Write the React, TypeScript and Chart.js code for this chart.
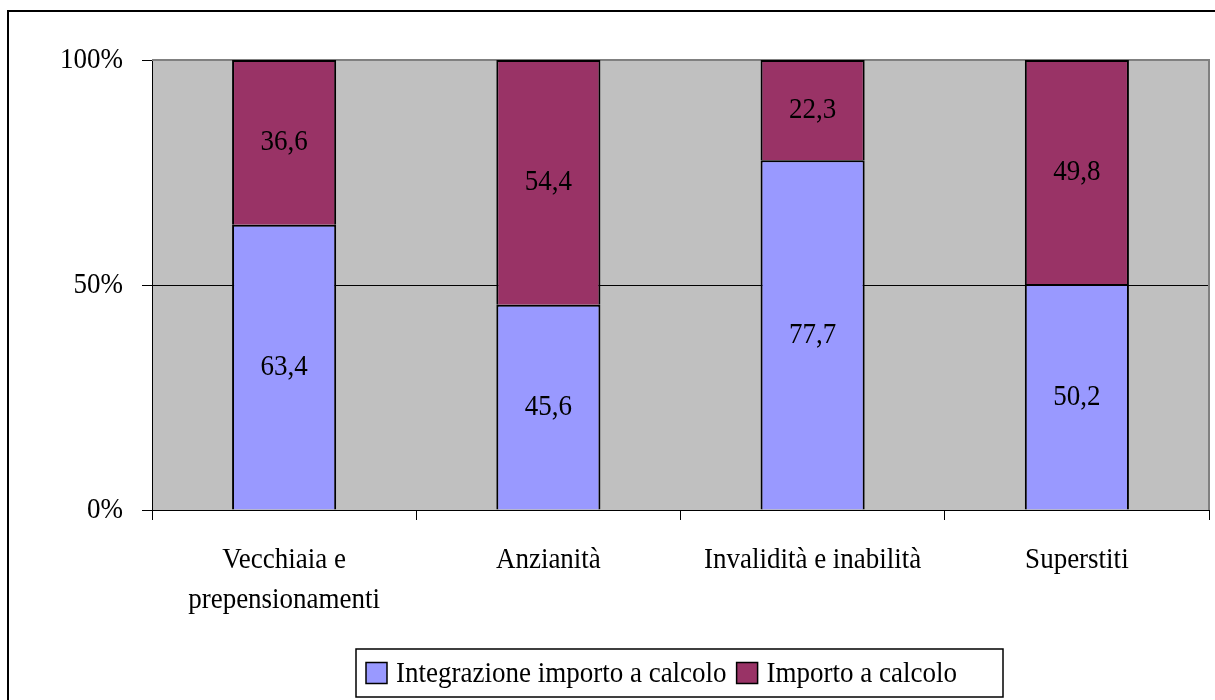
import React, { useEffect, useRef } from "react";
import { Chart, registerables } from "chart.js";

Chart.register(...registerables);

const categories: (string | string[])[] = [
  ["Vecchiaia e", "prepensionamenti"],
  "Anzianità",
  "Invalidità e inabilità",
  "Superstiti",
];
const integrazioneValues = [63.4, 45.6, 77.7, 50.2];
const importoValues = [36.6, 54.4, 22.3, 49.8];
const seriesLabels = ["Integrazione importo a calcolo", "Importo a calcolo"];
const seriesColors = ["#9999FF", "#993366"];
const yTicks = [0, 50, 100];

const FONT = '"Liberation Serif", "Times New Roman", serif';
const FS = 27;
const SY = 1.12; // vertical stretch of the text in the reference

const fmt = (v: number) => v.toFixed(1).replace(".", ",");

function drawText(ctx: CanvasRenderingContext2D, text: string, x: number, y: number, align: CanvasTextAlign) {
  ctx.save();
  ctx.translate(x, y);
  ctx.scale(1, SY);
  ctx.textAlign = align;
  ctx.textBaseline = "middle";
  ctx.fillText(text, 0, 0);
  ctx.restore();
}

const decorPlugin = {
  id: "decor",
  beforeDraw(chart: any) {
    const { ctx, chartArea: a } = chart;
    ctx.save();
    ctx.fillStyle = "#FFFFFF";
    ctx.fillRect(0, 0, chart.width, chart.height);
    ctx.fillStyle = "#C0C0C0";
    ctx.fillRect(a.left, a.top, a.right - a.left, a.bottom - a.top);
    ctx.restore();
  },
  beforeDatasetsDraw(chart: any) {
    const { ctx, chartArea: a } = chart;
    ctx.save();
    ctx.strokeStyle = "#808080";
    ctx.lineWidth = 2;
    ctx.beginPath();
    ctx.moveTo(a.left, a.top);
    ctx.lineTo(a.right, a.top);
    ctx.lineTo(a.right, a.bottom);
    ctx.stroke();
    ctx.restore();
  },
  afterDatasetsDraw(chart: any) {
    const { ctx } = chart;
    ctx.save();
    ctx.font = `${FS}px ${FONT}`;
    ctx.fillStyle = "#000000";
    chart.data.datasets.forEach((ds: any, di: number) => {
      const meta = chart.getDatasetMeta(di);
      meta.data.forEach((el: any, i: number) => {
        const cy = (el.y + el.base) / 2;
        drawText(ctx, fmt(ds.data[i]), el.x, cy, "center");
      });
    });
    ctx.restore();
  },
  afterDraw(chart: any) {
    const { ctx } = chart;
    const xs = chart.scales.x;
    const ys = chart.scales.y;
    ctx.save();
    ctx.font = `${FS}px ${FONT}`;
    ctx.fillStyle = "#000000";
    // y tick labels
    yTicks.forEach((v) => {
      drawText(ctx, `${v}%`, ys.right - 10 - 19, ys.getPixelForValue(v), "right");
    });
    // x tick labels
    chart.data.labels.forEach((lab: any, i: number) => {
      const lines = Array.isArray(lab) ? lab : [lab];
      const px = xs.getPixelForTick(i);
      lines.forEach((ln: string, li: number) => {
        drawText(ctx, ln, px, xs.top + 50 + li * 40, "center");
      });
    });
    // outer frame
    ctx.strokeStyle = "#000000";
    ctx.lineWidth = 2;
    ctx.strokeRect(8, 11, chart.width + 20, chart.height + 20);
    // legend
    const boxL = 356, boxT = 649, boxR = 1003, boxB = 697;
    ctx.fillStyle = "#FFFFFF";
    ctx.fillRect(boxL, boxT, boxR - boxL, boxB - boxT);
    ctx.lineWidth = 1.5;
    ctx.strokeStyle = "#000000";
    ctx.strokeRect(boxL, boxT, boxR - boxL, boxB - boxT);
    const cy = (boxT + boxB) / 2;
    let x = boxL + 10;
    const sw = 21;
    chart.data.datasets.forEach((ds: any, i: number) => {
      ctx.fillStyle = seriesColors[i];
      ctx.fillRect(x, cy - sw / 2, sw, sw);
      ctx.lineWidth = 1.5;
      ctx.strokeStyle = "#000000";
      ctx.strokeRect(x, cy - sw / 2, sw, sw);
      x += sw + 9;
      ctx.fillStyle = "#000000";
      drawText(ctx, ds.label, x, cy + 1, "left");
      x += ctx.measureText(ds.label).width + 10;
    });
    ctx.restore();
  },
};

export default function App() {
  const ref = useRef<HTMLCanvasElement | null>(null);
  useEffect(() => {
    if (!ref.current) return;
    const chart = new Chart(ref.current, {
      type: "bar",
      data: {
        labels: categories,
        datasets: [
          {
            label: seriesLabels[0],
            data: integrazioneValues,
            backgroundColor: seriesColors[0],
            borderColor: "#000000",
            borderWidth: 2,
          },
          {
            label: seriesLabels[1],
            data: importoValues,
            backgroundColor: seriesColors[1],
            borderColor: "#000000",
            borderWidth: 2,
          },
        ],
      },
      options: {
        responsive: false,
        animation: false,
        devicePixelRatio: 1,
        layout: { padding: { left: 0, top: 60, right: 6, bottom: 0 } },
        datasets: { bar: { categoryPercentage: 1, barPercentage: 0.394 } },
        plugins: {
          legend: { display: false },
          tooltip: { enabled: false },
          title: { display: false },
        },
        scales: {
          x: {
            stacked: true,
            grid: {
              offset: true,
              drawOnChartArea: false,
              drawTicks: true,
              tickLength: 10,
              color: "#000000",
              lineWidth: 1,
            },
            border: { display: true, color: "#000000", width: 1 },
            ticks: {
              display: false,
              autoSkip: false,
              maxRotation: 0,
            },
            afterFit(scale: any) {
              scale.height = 190;
            },
          },
          y: {
            stacked: true,
            min: 0,
            max: 100,
            afterBuildTicks(scale: any) {
              scale.ticks = yTicks.map((v) => ({ value: v }));
            },
            grid: {
              color: (c: any) => (c.tick && c.tick.value === 100 ? "#808080" : "#000000"),
              tickColor: "#000000",
              tickLength: 10,
              lineWidth: 1,
            },
            border: { display: true, color: "#000000", width: 1 },
            ticks: {
              display: false,
            },
            afterFit(scale: any) {
              scale.width = 152;
            },
          },
        },
      },
      plugins: [decorPlugin],
    });
    return () => chart.destroy();
  }, []);
  return (
    <div style={{ position: "absolute", left: 0, top: 0, width: 1215, height: 700 }}>
      <canvas ref={ref} width={1215} height={700} style={{ width: 1215, height: 700, display: "block" }} />
    </div>
  );
}
